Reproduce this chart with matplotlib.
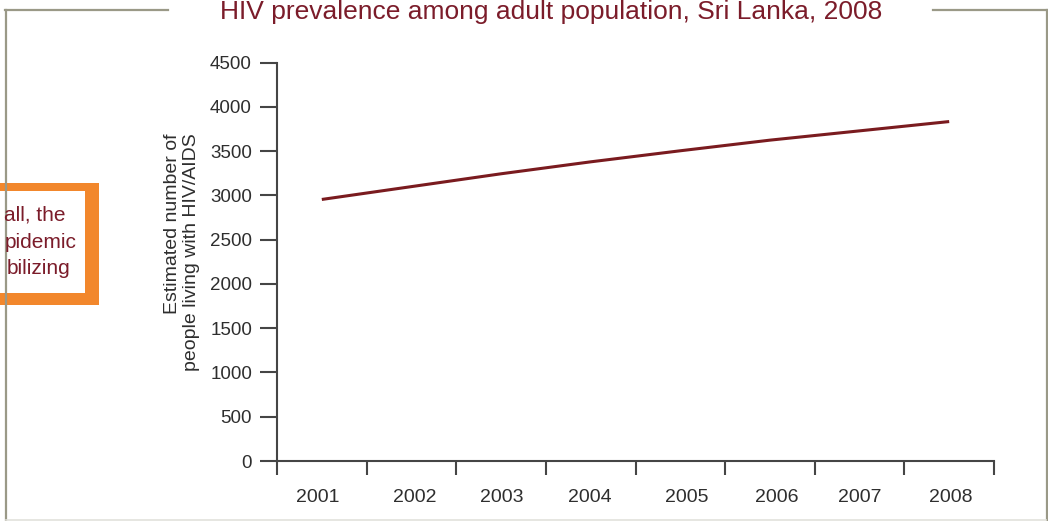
## HIV prevalence among adult population, Sri Lanka, 2008
# line chart with framed panel and cropped call-out box

import matplotlib
matplotlib.use("Agg")
import matplotlib.pyplot as plt
from matplotlib.lines import Line2D
from matplotlib.patches import Rectangle

# ===== Data =====
years = ["2001", "2002", "2003", "2004", "2005", "2006", "2007", "2008"]
people_living_with_hiv = [2955, 3100, 3245, 3380, 3505, 3625, 3730, 3835]
y_ticks = [0, 500, 1000, 1500, 2000, 2500, 3000, 3500, 4000, 4500]

title = "HIV prevalence among adult population, Sri Lanka, 2008"
y_label = "Estimated number of\npeople living with HIV/AIDS"
callout_lines = ["all, the", "pidemic", "bilizing"]

# ===== Style =====
W, H = 1048, 521
maroon = "#7b1c2a"
line_col = "#7a1b1f"
frame_col = "#9a9987"
axis_col = "#454545"
text_col = "#2e2e2e"
orange = "#f2872c"
plt.rcParams["font.family"] = ["Liberation Sans", "DejaVu Sans"]


def fx(px):
    return px / W


def fy(py):
    return 1 - py / H


fig = plt.figure(figsize=(W / 100, H / 100), dpi=100)
fig.patch.set_facecolor("white")

# ===== Outer frame =====
for xs, ys in [((5, 168), (10, 10)), ((6, 6), (10, 521)),
               ((933, 1048), (10, 10)), ((1046.5, 1046.5), (10, 521))]:
    fig.add_artist(Line2D([fx(x) for x in xs], [fy(y) for y in ys],
                          color=frame_col, lw=1.6))
fig.add_artist(Line2D([fx(6), fx(1046)], [fy(519.5), fy(519.5)],
                      color="#e2e2dc", lw=1.2))

# ===== Title (kept just inside the top edge) =====
fig.text(fx(551), fy(19.5), title, color=maroon, fontsize=19,
         ha="center", va="baseline")

# ===== Call-out box (cropped at left edge) =====
fig.add_artist(Rectangle((fx(-10), fy(305)), fx(109), 122 / H,
                         facecolor=orange, edgecolor="none"))
fig.add_artist(Rectangle((fx(-10), fy(293)), fx(95), 102 / H,
                         facecolor="white", edgecolor="none"))
for txt, x_right, y_mid in zip(callout_lines, [66, 77, 70], [215, 242, 268]):
    fig.text(fx(x_right), fy(y_mid), txt, color=maroon, fontsize=15,
             ha="right", va="center")

# ===== Axes =====
ax = fig.add_axes([fx(277), fy(461), fx(994 - 277), (461 - 62.7) / H])
x = list(range(len(years)))
ax.plot(x, people_living_with_hiv, color=line_col, lw=2.2,
        solid_capstyle="butt")

ax.set_xlim(-0.5, len(years) - 0.5)
ax.set_ylim(0, 4500)
ax.set_yticks(y_ticks)
ax.set_yticklabels([str(v) for v in y_ticks], fontsize=13.5, color=text_col)

# boundary ticks as major (marks only), year labels as minor (text only)
ax.set_xticks([i - 0.5 for i in range(len(years) + 1)])
ax.set_xticklabels([])
label_shift = [-0.05, 0.04, 0.01, -0.01, 0.07, 0.08, 0.0, 0.02]
ax.set_xticks([i + s for i, s in zip(x, label_shift)], minor=True)
ax.set_xticklabels(years, minor=True, fontsize=14, color=text_col)

ax.tick_params(axis="x", which="major", length=10, width=1.5, color=axis_col,
               direction="out")
ax.tick_params(axis="x", which="minor", length=0, pad=20)
ax.tick_params(axis="y", length=12, width=1.5, color=axis_col, pad=6)

for side in ["top", "right"]:
    ax.spines[side].set_visible(False)
for side in ["left", "bottom"]:
    ax.spines[side].set_color(axis_col)
    ax.spines[side].set_linewidth(1.5)

fig.text(fx(182), fy(133), y_label, rotation=90, fontsize=14,
         color=text_col, ha="center", va="top", multialignment="right",
         linespacing=1.15)

fig.savefig("out.png", dpi=100, facecolor="white")
